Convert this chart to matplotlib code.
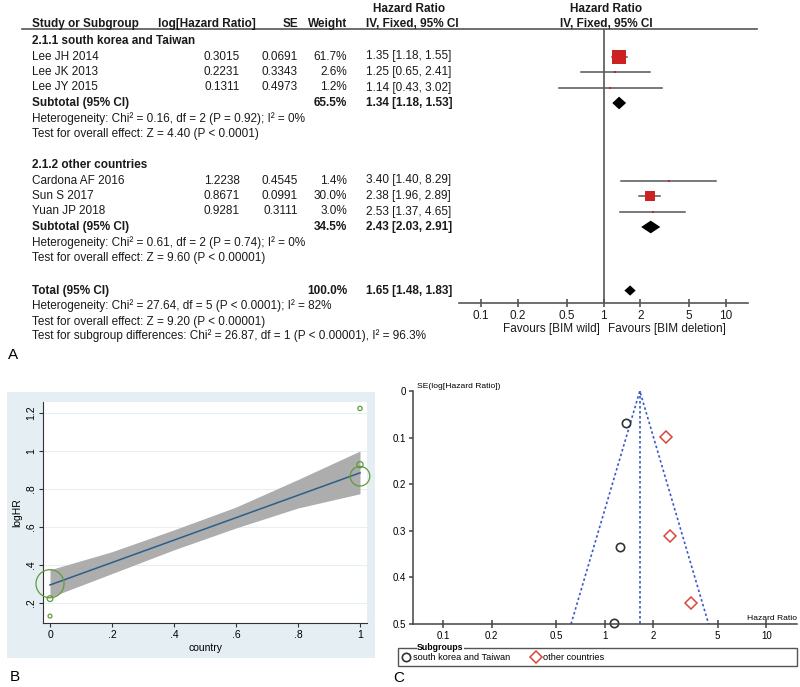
import numpy as np
import matplotlib
matplotlib.use("Agg")
import matplotlib.pyplot as plt
from matplotlib.patches import Rectangle

plt.rcParams['font.family'] = ['Liberation Sans', 'DejaVu Sans']

# ---- data: forest plot ----
studies_g1 = ["Lee JH 2014", "Lee JK 2013", "Lee JY 2015"]
loghr_g1 = [0.3015, 0.2231, 0.1311]
se_g1 = [0.0691, 0.3343, 0.4973]
weight_g1 = [61.7, 2.6, 1.2]
hr_g1 = [1.35, 1.25, 1.14]
lo_g1 = [1.18, 0.65, 0.43]
hi_g1 = [1.55, 2.41, 3.02]

studies_g2 = ["Cardona AF 2016", "Sun S 2017", "Yuan JP 2018"]
loghr_g2 = [1.2238, 0.8671, 0.9281]
se_g2 = [0.4545, 0.0991, 0.3111]
weight_g2 = [1.4, 30.0, 3.0]
hr_g2 = [3.40, 2.38, 2.53]
lo_g2 = [1.40, 1.96, 1.37]
hi_g2 = [8.29, 2.89, 4.65]

sub_weights = [65.5, 34.5, 100.0]
sub_hr = [1.34, 2.43, 1.65]
sub_lo = [1.18, 2.03, 1.48]
sub_hi = [1.53, 2.91, 1.83]

group_names = ["2.1.1 south korea and Taiwan", "2.1.2 other countries"]
het_text = ["Heterogeneity: Chi² = 0.16, df = 2 (P = 0.92); I² = 0%",
            "Heterogeneity: Chi² = 0.61, df = 2 (P = 0.74); I² = 0%",
            "Heterogeneity: Chi² = 27.64, df = 5 (P < 0.0001); I² = 82%"]
z_text = ["Test for overall effect: Z = 4.40 (P < 0.0001)",
          "Test for overall effect: Z = 9.60 (P < 0.00001)",
          "Test for overall effect: Z = 9.20 (P < 0.00001)"]
subgroup_text = "Test for subgroup differences: Chi² = 26.87, df = 1 (P < 0.00001), I² = 96.3%"
hr_ticks = [0.1, 0.2, 0.5, 1, 2, 5, 10]

# ---- data: meta-regression (panel B) ----
country = [0, 0, 0, 1, 1, 1]
loghr_all = loghr_g1 + loghr_g2
se_all = se_g1 + se_g2
fit_x = [0, 1]
fit_y = [0.295, 0.885]
band_x = [0, 0.2, 0.4, 0.6, 0.8, 1]
band_lo = [0.23, 0.355, 0.48, 0.595, 0.70, 0.775]
band_hi = [0.375, 0.47, 0.585, 0.705, 0.85, 1.0]

W, H = 800, 687
fig = plt.figure(figsize=(8, 6.87), dpi=100)


def px_rect(x0, y0, x1, y1):
    return [x0 / W, 1 - y1 / H, (x1 - x0) / W, (y1 - y0) / H]


def row_of(y):
    return (y - 41) / 15.5


FS = 8.45
TXT = "#1a1a1a"
RED = "#cc2222"

# ================= Panel A =================
ax_t = fig.add_axes(px_rect(0, 0, W, 345))
ax_t.set_xlim(0, W)
ax_t.set_ylim(row_of(345), row_of(0))
ax_t.axis("off")

ax_t.text(409, row_of(9), "Hazard Ratio", ha="center", va="center", fontsize=FS, weight="bold", color=TXT)
ax_t.text(606, row_of(9), "Hazard Ratio", ha="center", va="center", fontsize=FS, weight="bold", color=TXT)
hy = row_of(24)
ax_t.text(32, hy, "Study or Subgroup", ha="left", va="center", fontsize=FS, weight="bold", color=TXT)
ax_t.text(256, hy, "log[Hazard Ratio]", ha="right", va="center", fontsize=FS, weight="bold", color=TXT)
ax_t.text(298, hy, "SE", ha="right", va="center", fontsize=FS, weight="bold", color=TXT)
ax_t.text(347, hy, "Weight", ha="right", va="center", fontsize=FS, weight="bold", color=TXT)
ax_t.text(366, hy, "IV, Fixed, 95% CI", ha="left", va="center", fontsize=FS, weight="bold", color=TXT)
ax_t.text(606, hy, "IV, Fixed, 95% CI", ha="center", va="center", fontsize=FS, weight="bold", color=TXT)
ax_t.plot([22, 757], [row_of(29), row_of(29)], color="#555555", lw=1.2)

ax_f = fig.add_axes(px_rect(459, 29, 748, 303))
ax_f.patch.set_alpha(0)
ax_f.set_xscale("log")
ax_f.set_xlim(10 ** -1.18, 10 ** 1.18)
ax_f.set_ylim(row_of(303), row_of(29))
for s in ["top", "left", "right"]:
    ax_f.spines[s].set_visible(False)
ax_f.spines["bottom"].set_color("#555555")
ax_f.spines["bottom"].set_linewidth(1.2)
ax_f.set_yticks([])
ax_f.set_xticks(hr_ticks)
ax_f.set_xticklabels([f"{t:g}" for t in hr_ticks], fontsize=FS, color=TXT)
ax_f.xaxis.set_minor_locator(matplotlib.ticker.NullLocator())
ax_f.tick_params(axis="x", direction="inout", length=6, width=1.2, color="#555555", pad=2)
ax_f.axvline(1, color="#555555", lw=1.2)

groups = [
    (group_names[0], studies_g1, loghr_g1, se_g1, weight_g1, hr_g1, lo_g1, hi_g1, 0),
    (group_names[1], studies_g2, loghr_g2, se_g2, weight_g2, hr_g2, lo_g2, hi_g2, 8),
]
for gi, (gname, st, lh, se, wt, hr, lo, hi, r0) in enumerate(groups):
    ax_t.text(32, r0, gname, ha="left", va="center", fontsize=FS, weight="bold", color=TXT)
    for k in range(3):
        r = r0 + 1 + k
        ax_t.text(32, r, st[k], ha="left", va="center", fontsize=FS, color=TXT)
        ax_t.text(240, r, f"{lh[k]:.4f}", ha="right", va="center", fontsize=FS, color=TXT)
        ax_t.text(298, r, f"{se[k]:.4f}", ha="right", va="center", fontsize=FS, color=TXT)
        ax_t.text(347, r, f"{wt[k]:.1f}%", ha="right", va="center", fontsize=FS, color=TXT)
        ax_t.text(366, r, f"{hr[k]:.2f} [{lo[k]:.2f}, {hi[k]:.2f}]", ha="left", va="center", fontsize=FS, color=TXT)
        ax_f.plot([lo[k], hi[k]], [r, r], color="#555555", lw=1.1, zorder=2)
        ax_f.plot(hr[k], r, marker="s", color=RED, markersize=max(1.2 * np.sqrt(wt[k]), 1.5),
                  markeredgewidth=0, zorder=3)
    rs = r0 + 4
    ax_t.text(32, rs, "Subtotal (95% CI)", ha="left", va="center", fontsize=FS, weight="bold", color=TXT)
    ax_t.text(347, rs, f"{sub_weights[gi]:.1f}%", ha="right", va="center", fontsize=FS, weight="bold", color=TXT)
    ax_t.text(366, rs, f"{sub_hr[gi]:.2f} [{sub_lo[gi]:.2f}, {sub_hi[gi]:.2f}]", ha="left", va="center",
              fontsize=FS, weight="bold", color=TXT)
    ax_f.fill([sub_lo[gi], sub_hr[gi], sub_hi[gi], sub_hr[gi]], [rs, rs - 0.41, rs, rs + 0.41],
              color="black", lw=0, zorder=3)
    ax_t.text(32, rs + 1, het_text[gi], ha="left", va="center", fontsize=FS, color=TXT)
    ax_t.text(32, rs + 2, z_text[gi], ha="left", va="center", fontsize=FS, color=TXT)

rt = 16.1
ax_t.text(32, rt, "Total (95% CI)", ha="left", va="center", fontsize=FS, weight="bold", color=TXT)
ax_t.text(347, rt, f"{sub_weights[2]:.1f}%", ha="right", va="center", fontsize=FS, weight="bold", color=TXT)
ax_t.text(366, rt, f"{sub_hr[2]:.2f} [{sub_lo[2]:.2f}, {sub_hi[2]:.2f}]", ha="left", va="center",
          fontsize=FS, weight="bold", color=TXT)
ax_f.fill([sub_lo[2], sub_hr[2], sub_hi[2], sub_hr[2]], [rt, rt - 0.33, rt, rt + 0.33],
          color="black", lw=0, zorder=3)
ax_t.text(32, rt + 1, het_text[2], ha="left", va="center", fontsize=FS, color=TXT)
ax_t.text(32, rt + 2, z_text[2], ha="left", va="center", fontsize=FS, color=TXT)
ax_t.text(32, 19, subgroup_text, ha="left", va="center", fontsize=FS, color=TXT)
ax_t.text(600, row_of(329), "Favours [BIM wild]", ha="right", va="center", fontsize=FS, color=TXT)
ax_t.text(608, row_of(329), "Favours [BIM deletion]", ha="left", va="center", fontsize=FS, color=TXT)

fig.text(8 / W, 1 - 355 / H, "A", fontsize=11, ha="left", va="center")

# ================= Panel B =================
fig.patches.append(Rectangle((7 / W, 1 - 658 / H), (375 - 7) / W, (658 - 392) / H,
                             transform=fig.transFigure, facecolor="#e4eef3", edgecolor="none", zorder=-5))
ax_b = fig.add_axes(px_rect(43, 402, 367, 623))
ax_b.set_zorder(2)
ax_b.set_facecolor("white")
ax_b.set_xlim(-7 / 310, 1 + 7 / 310)
ax_b.set_ylim(0.2 - 20 / 190, 1.2 + 11 / 190)
yt = [0.2, 0.4, 0.6, 0.8, 1.0, 1.2]
ax_b.set_yticks(yt)
ax_b.set_yticklabels([".2", ".4", ".6", ".8", "1", "1.2"], rotation=90, va="center", fontsize=7.5)
xt = [0, 0.2, 0.4, 0.6, 0.8, 1]
ax_b.set_xticks(xt)
ax_b.set_xticklabels(["0", ".2", ".4", ".6", ".8", "1"], fontsize=7.5)
for y in yt:
    ax_b.axhline(y, color="#e8eff3", lw=0.8, zorder=0)
for s in ["top", "right"]:
    ax_b.spines[s].set_visible(False)
for s in ["left", "bottom"]:
    ax_b.spines[s].set_color("#333333")
ax_b.tick_params(length=3, width=0.8, color="#333333", pad=2)
ax_b.fill_between(band_x, band_lo, band_hi, color="#adadad", lw=0, zorder=1)
ax_b.plot(fit_x, fit_y, color="#2a5f8c", lw=1.1, zorder=2)
wts = 1 / np.array(se_all) ** 2
ax_b.scatter(country, loghr_all, s=wts * 1.95, facecolors="none", edgecolors="#5f9b3c",
             linewidths=0.9, zorder=3, clip_on=False)
ax_b.set_xlabel("country", fontsize=7.5, labelpad=2)
ax_b.set_ylabel("logHR", fontsize=7.5, labelpad=3)
fig.text(10 / W, 1 - 677 / H, "B", fontsize=11, ha="left", va="center")

# ================= Panel C =================
ax_c = fig.add_axes(px_rect(413, 391, 797, 624))
ax_c.set_xscale("log")
ax_c.set_xlim(10 ** -1.186, 10 ** 1.19)
ax_c.set_ylim(0.5, 0)
for s in ["top", "right"]:
    ax_c.spines[s].set_visible(False)
for s in ["left", "bottom"]:
    ax_c.spines[s].set_color("#444444")
    ax_c.spines[s].set_linewidth(1.1)
ax_c.set_xticks(hr_ticks)
ax_c.set_xticklabels([f"{t:g}" for t in hr_ticks], fontsize=7)
ax_c.xaxis.set_minor_locator(matplotlib.ticker.NullLocator())
ax_c.set_yticks([0, 0.1, 0.2, 0.3, 0.4, 0.5])
ax_c.set_yticklabels(["0", "0.1", "0.2", "0.3", "0.4", "0.5"], fontsize=7)
ax_c.tick_params(axis="x", direction="inout", length=6, width=1.1, color="#444444", pad=2)
ax_c.tick_params(axis="y", direction="out", length=3, width=1.1, color="#444444", pad=2)

pooled = sub_hr[2]
se_max = 0.5
blue = "#3a58c8"
ax_c.plot([pooled, pooled], [0, se_max], color=blue, lw=1.2, ls=(0, (1.5, 1.5)))
ax_c.plot([pooled * np.exp(-1.96 * se_max), pooled, pooled * np.exp(1.96 * se_max)],
          [se_max, 0, se_max], color=blue, lw=1.2, ls=(0, (1.5, 1.5)))
h1, = ax_c.plot(hr_g1, se_g1, ls="none", marker="o", markersize=6, markerfacecolor="none",
                markeredgecolor="#333333", markeredgewidth=1.2, clip_on=False,
                label="south korea and Taiwan")
h2, = ax_c.plot(hr_g2, se_g2, ls="none", marker="D", markersize=6, markerfacecolor="none",
                markeredgecolor="#d9473a", markeredgewidth=1.1, clip_on=False,
                label="other countries")
fig.text(417 / W, 1 - 387 / H, "SE(log[Hazard Ratio])", fontsize=6.1, ha="left", va="center")
fig.text(797 / W, 1 - 618 / H, "Hazard Ratio", fontsize=6.1, ha="right", va="center")

fig.patches.append(Rectangle((398 / W, 1 - 666 / H), (797 - 398) / W, (666 - 648) / H,
                             transform=fig.transFigure, facecolor="white", edgecolor="#555555",
                             lw=1.0, zorder=1))
fig.text(417 / W, 1 - 648 / H, "Subgroups", fontsize=6.3, weight="bold", ha="left", va="center",
         bbox=dict(facecolor="white", edgecolor="none", pad=0.3), zorder=3)
fig.legend(handles=[h1, h2], loc="center left", bbox_to_anchor=(402 / W, 1 - 658 / H), ncol=2,
           frameon=False, fontsize=6.6, handlelength=0.8, handletextpad=0.4, columnspacing=2.4,
           borderpad=0, borderaxespad=0)
fig.text(393 / W, 1 - 678 / H, "C", fontsize=11, ha="left", va="center")

fig.savefig("out.png", dpi=100)
